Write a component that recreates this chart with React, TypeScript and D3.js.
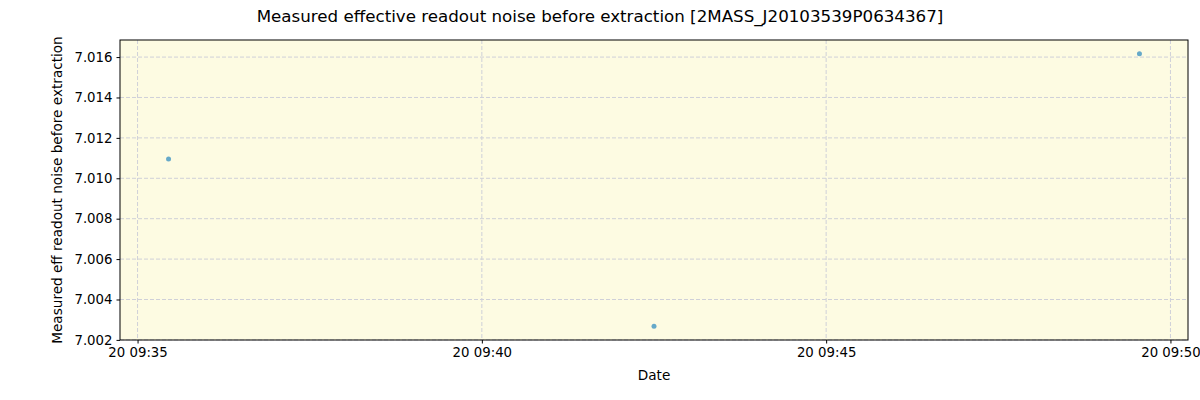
import { useEffect, useRef } from 'react'
import * as d3 from 'd3'

const times = ['2021-05-20T09:35:27', '2021-05-20T09:42:30', '2021-05-20T09:49:33']
const noise = [7.01095, 7.00267, 7.01617]
const yTicks = [7.002, 7.004, 7.006, 7.008, 7.01, 7.012, 7.014, 7.016]
const xTicks = ['2021-05-20T09:35:00', '2021-05-20T09:40:00', '2021-05-20T09:45:00', '2021-05-20T09:50:00']

export default () => {
  const rootRef = useRef<SVGSVGElement>(null)

  useEffect(() => {
    const W = 1200,
      H = 400
    const margin = { top: 40, right: 12, bottom: 60, left: 120 }
    const width = W - margin.left - margin.right,
      height = H - margin.top - margin.bottom

    const parse = d3.timeParse('%Y-%m-%dT%H:%M:%S')
    const data = times.map((t, i) => ({ date: parse(t) as Date, y: noise[i] }))

    const svg = d3.select(rootRef.current)
    svg.selectAll('*').remove()
    svg.attr('width', W).attr('height', H).style('font-family', 'DejaVu Sans')

    const ext = d3.extent(data, (d) => d.date.getTime()) as number[]
    const padX = (ext[1] - ext[0]) * 0.05
    const yExt = d3.extent(data, (d) => d.y) as number[]
    const padY = (yExt[1] - yExt[0]) * 0.05

    const x = d3.scaleTime().domain([new Date(ext[0] - padX), new Date(ext[1] + padX)]).range([0, width])
    const y = d3.scaleLinear().domain([yExt[0] - padY, yExt[1] + padY]).range([height, 0])

    const g = svg.append('g').attr('transform', `translate(${margin.left},${margin.top})`)

    g.append('rect').attr('width', width).attr('height', height).attr('fill', '#fdfbe2')

    const xt = xTicks.map((t) => parse(t) as Date)

    // grid
    g.selectAll('.gx')
      .data(xt)
      .join('line')
      .attr('x1', (d) => x(d))
      .attr('x2', (d) => x(d))
      .attr('y1', 0)
      .attr('y2', height)
      .attr('stroke', '#cfd0d8')
      .attr('stroke-dasharray', '4,2')
    g.selectAll('.gy')
      .data(yTicks)
      .join('line')
      .attr('y1', (d) => y(d))
      .attr('y2', (d) => y(d))
      .attr('x1', 0)
      .attr('x2', width)
      .attr('stroke', '#cfd0d8')
      .attr('stroke-dasharray', '4,2')

    g.selectAll('circle')
      .data(data)
      .join('circle')
      .attr('cx', (d) => x(d.date))
      .attr('cy', (d) => y(d.y))
      .attr('r', 2.5)
      .attr('fill', '#66a9c9')

    g.append('rect')
      .attr('width', width)
      .attr('height', height)
      .attr('fill', 'none')
      .attr('stroke', '#000')
      .attr('stroke-width', 1)

    const fmt = d3.timeFormat('%d %H:%M')
    const ax = g
      .append('g')
      .attr('transform', `translate(0,${height})`)
      .call(d3.axisBottom(x).tickValues(xt).tickFormat((d) => fmt(d as Date)).tickSize(3.5).tickPadding(4))
    const ay = g
      .append('g')
      .call(d3.axisLeft(y).tickValues(yTicks).tickFormat(d3.format('.3f')).tickSize(3.5).tickPadding(4))
    ;[ax, ay].forEach((a) => {
      a.select('.domain').remove()
      a.selectAll('text').attr('font-size', 13.3).attr('fill', '#000').attr('font-family', 'DejaVu Sans')
      a.selectAll('line').attr('stroke', '#000')
    })

    svg
      .append('text')
      .attr('x', 600)
      .attr('y', 22)
      .attr('text-anchor', 'middle')
      .attr('font-size', 16.7)
      .text('Measured effective readout noise before extraction [2MASS_J20103539P0634367]')

    svg
      .append('text')
      .attr('x', margin.left + width / 2)
      .attr('y', 380)
      .attr('text-anchor', 'middle')
      .attr('font-size', 13.6)
      .text('Date')

    svg
      .append('text')
      .attr('transform', `translate(62,${margin.top + height / 2}) rotate(-90)`)
      .attr('text-anchor', 'middle')
      .attr('font-size', 13.6)
      .text('Measured eff readout noise before extraction')
  }, [])

  return <svg ref={rootRef} style={{ position: 'absolute', left: 0, top: 0 }}></svg>
}
